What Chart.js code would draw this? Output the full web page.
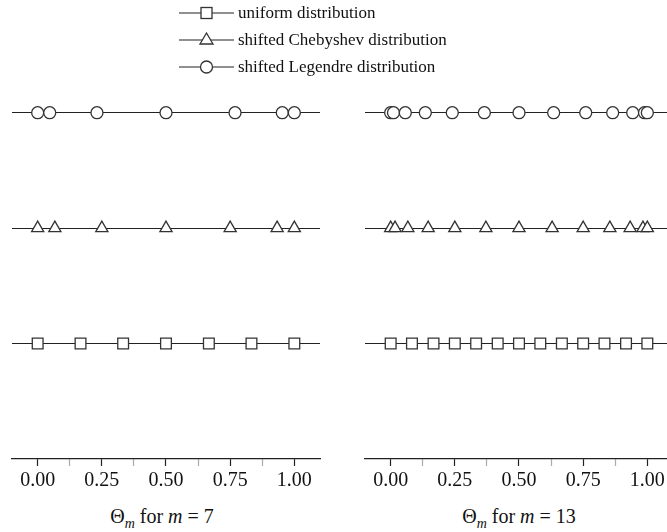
<!DOCTYPE html>
<html>
<head>
<meta charset="utf-8">
<script src="https://cdn.jsdelivr.net/npm/chart.js@4.4.1/dist/chart.umd.min.js"></script>
<style>
  html, body { margin: 0; padding: 0; background: #fff; overflow: hidden; }
  body { width: 667px; height: 532px; position: relative; font-family: "Liberation Serif", "DejaVu Serif", serif; color: #111; }
  .panel { position: absolute; top: 0; width: 332px; height: 500px; }
  .legend { position: absolute; left: 179px; top: 0; font-size: 17px; }
  .legend div { position: absolute; left: 0; height: 20px; white-space: nowrap; }
  .legend svg { position: absolute; left: 0; top: 0; }
  .legend span { position: absolute; left: 59px; top: 0; line-height: 20px; }
  .xlabel { position: absolute; top: 505px; font-size: 20px; line-height: 22px; white-space: nowrap; transform: translateX(-50%); }
  .xlabel sub { font-size: 14px; }
</style>
</head>
<body>

<div class="panel" style="left:0px"><canvas id="left"></canvas></div>
<div class="panel" style="left:353px"><canvas id="right"></canvas></div>

<div class="legend">
  <div style="top:3px">
    <svg width="56" height="20"><line x1="0" y1="10" x2="55" y2="10" stroke="#222" stroke-width="1.2"/><rect x="22" y="4.5" width="11" height="11" fill="#fff" stroke="#333" stroke-width="1.3"/></svg>
    <span>uniform distribution</span>
  </div>
  <div style="top:30px">
    <svg width="56" height="20"><line x1="0" y1="10" x2="55" y2="10" stroke="#222" stroke-width="1.2"/><polygon points="27.5,3 34,14 21,14" fill="#fff" stroke="#333" stroke-width="1.3"/></svg>
    <span>shifted Chebyshev distribution</span>
  </div>
  <div style="top:57px">
    <svg width="56" height="20"><line x1="0" y1="10" x2="55" y2="10" stroke="#222" stroke-width="1.2"/><circle cx="27.5" cy="10" r="6" fill="#fff" stroke="#333" stroke-width="1.3"/></svg>
    <span>shifted Legendre distribution</span>
  </div>
</div>

<div class="xlabel" style="left:162px">&Theta;<sub><i>m</i></sub> for <i>m</i> = 7</div>
<div class="xlabel" style="left:519px">&Theta;<sub><i>m</i></sub> for <i>m</i> = 13</div>

<script>
// ---- data ----
const tickValues = [0, 0.125, 0.25, 0.375, 0.5, 0.625, 0.75, 0.875, 1];
const rowValues = [1, 2, 3];   // uniform, Chebyshev, Legendre rows

// m = 7
const uniform7   = [0, 0.167, 0.333, 0.5, 0.667, 0.833, 1];
const chebyshev7 = [0, 0.067, 0.25, 0.5, 0.75, 0.933, 1];
const legendre7  = [0, 0.047, 0.231, 0.5, 0.769, 0.953, 1];

// m = 13
const uniform13   = [0, 0.083, 0.167, 0.25, 0.333, 0.417, 0.5, 0.583, 0.667, 0.75, 0.833, 0.917, 1];
const chebyshev13 = [0, 0.017, 0.067, 0.146, 0.25, 0.371, 0.5, 0.629, 0.75, 0.854, 0.933, 0.983, 1];
const legendre13  = [0, 0.011, 0.057, 0.135, 0.24, 0.365, 0.5, 0.635, 0.76, 0.865, 0.943, 0.989, 1];

Chart.defaults.font.family = '"Liberation Serif", "DejaVu Serif", serif';
Chart.defaults.color = '#111';

function pts(xs, row) {
  return xs.map(x => ({ x: x, y: row }));
}

function series(xs, row, style, radius) {
  return {
    data: pts(xs, row),
    showLine: false,
    pointStyle: style,
    pointRadius: radius,
    pointBackgroundColor: '#fff',
    pointBorderColor: '#333',
    pointBorderWidth: 1.3
  };
}

// major tick every 0.25
function isMajor(v) {
  return Math.abs(v * 4 - Math.round(v * 4)) < 1e-6;
}

function makeChart(id, uni, cheb, leg) {
  return new Chart(document.getElementById(id), {
    type: 'scatter',
    data: {
      datasets: [
        series(uni, rowValues[0], 'rect', 7.6),
        series(cheb, rowValues[1], 'triangle', 7),
        series(leg, rowValues[2], 'circle', 6)
      ]
    },
    options: {
      responsive: false,
      animation: false,
      events: [],
      layout: { padding: { left: 12, right: 12, top: 55, bottom: 4 } },
      plugins: { legend: { display: false }, tooltip: { enabled: false } },
      scales: {
        x: {
          type: 'linear',
          min: -0.1,
          max: 1.1,
          afterBuildTicks: s => { s.ticks = tickValues.map(v => ({ value: v })); },
          border: { display: true, color: '#222', width: 1.2 },
          grid: {
            drawOnChartArea: false,
            drawTicks: true,
            tickLength: 7,
            tickWidth: 1.2,
            tickColor: c => isMajor(c.tick.value) ? '#222' : '#aaa'
          },
          ticks: {
            padding: 3,
            font: { size: 20 },
            color: '#111',
            autoSkip: false,
            maxRotation: 0,
            callback: v => isMajor(v) ? v.toFixed(2) : ''
          }
        },
        y: {
          min: 0,
          max: 3.5,
          afterBuildTicks: s => { s.ticks = rowValues.map(v => ({ value: v })); },
          border: { display: false },
          grid: { color: '#222', lineWidth: 1.1, drawTicks: false },
          ticks: { display: false }
        }
      }
    }
  });
}

document.getElementById('left').width = 332;
document.getElementById('left').height = 500;
document.getElementById('right').width = 332;
document.getElementById('right').height = 500;

makeChart('left', uniform7, chebyshev7, legendre7);
makeChart('right', uniform13, chebyshev13, legendre13);
</script>
</body>
</html>
